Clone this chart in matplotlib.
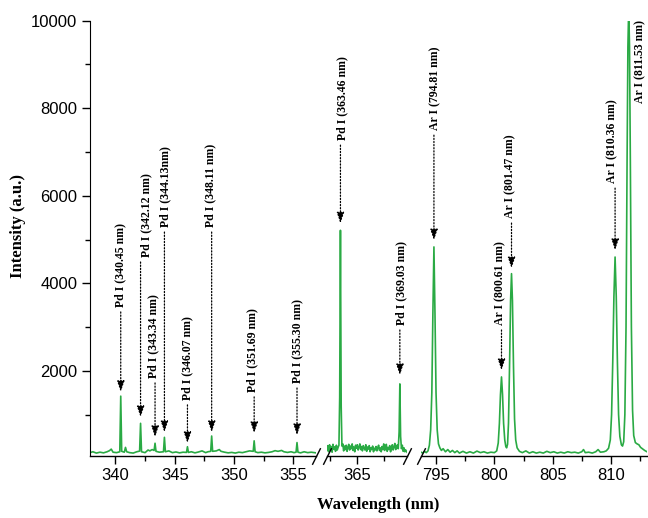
import matplotlib.pyplot as plt
from matplotlib.ticker import MultipleLocator, FixedLocator
import numpy as np

# spectrum, one list of (wavelength, intensity) per axis segment
seg1 = [(337.86, 130), (338.1, 150), (338.4, 120), (338.7, 140), (339.0, 125), (339.3, 150),
        (339.5, 175), (339.65, 210), (339.8, 140), (340.1, 130), (340.37, 150), (340.45, 1420),
        (340.53, 160), (340.75, 140), (340.85, 250), (340.95, 150), (341.2, 130), (341.5, 120),
        (341.8, 150), (342.04, 165), (342.12, 800), (342.2, 150), (342.5, 130), (342.75, 190),
        (342.9, 170), (343.1, 200), (343.26, 180), (343.34, 345), (343.42, 160), (343.7, 140),
        (344.05, 150), (344.13, 480), (344.21, 150), (344.5, 170), (344.8, 130), (345.1, 145),
        (345.4, 125), (345.7, 140), (345.99, 135), (346.07, 265), (346.15, 135), (346.4, 150),
        (346.7, 125), (347.0, 145), (347.3, 170), (347.6, 130), (347.8, 150), (348.03, 160),
        (348.11, 510), (348.19, 160), (348.5, 170), (348.75, 200), (348.9, 160), (349.2, 140),
        (349.5, 125), (349.8, 135), (350.1, 120), (350.4, 140), (350.7, 130), (351.0, 150),
        (351.3, 170), (351.61, 160), (351.69, 400), (351.77, 150), (352.0, 130), (352.3, 140),
        (352.6, 125), (352.9, 135), (353.2, 150), (353.45, 175), (353.7, 160), (354.0, 180),
        (354.2, 150), (354.5, 135), (354.8, 150), (355.05, 130), (355.22, 140), (355.30, 360),
        (355.38, 140), (355.6, 125), (355.9, 150), (356.2, 130), (356.5, 140), (356.9, 125)]

seg2 = [(362.2, 180), (362.28, 290), (362.36, 150), (362.44, 310), (362.52, 200), (362.6, 270),
        (362.68, 140), (362.76, 320), (362.84, 210), (362.92, 260), (363.0, 160), (363.08, 300),
        (363.16, 190), (363.24, 250), (363.32, 300), (363.39, 1400), (363.46, 5210), (363.53, 1200),
        (363.6, 280), (363.68, 330), (363.76, 170), (363.84, 280), (363.92, 200), (364.0, 300),
        (364.08, 160), (364.16, 250), (364.24, 320), (364.32, 190), (364.4, 280), (364.48, 220),
        (364.56, 330), (364.64, 180), (364.72, 260), (364.8, 150), (364.88, 300), (364.96, 230),
        (365.04, 310), (365.12, 190), (365.2, 250), (365.28, 330), (365.36, 200), (365.44, 270),
        (365.52, 170), (365.6, 290), (365.68, 230), (365.76, 190), (365.84, 310), (365.92, 160),
        (366.0, 260), (366.08, 210), (366.16, 290), (366.24, 150), (366.32, 240), (366.4, 200),
        (366.48, 280), (366.56, 150), (366.64, 230), (366.72, 190), (366.8, 270), (366.88, 170),
        (366.96, 250), (367.04, 300), (367.12, 180), (367.2, 240), (367.28, 150), (367.36, 270),
        (367.44, 200), (367.52, 330), (367.6, 180), (367.68, 240), (367.76, 320), (367.84, 160),
        (367.92, 250), (368.0, 200), (368.08, 290), (368.16, 150), (368.24, 240), (368.32, 310),
        (368.4, 190), (368.48, 260), (368.56, 340), (368.64, 200), (368.72, 250), (368.8, 310),
        (368.88, 220), (368.96, 600), (369.03, 1700), (369.1, 500), (369.18, 220), (369.26, 300),
        (369.34, 160), (369.42, 240), (369.5, 150), (369.58, 190), (369.7, 140)]

seg3 = [(793.7, 140), (793.85, 120), (794.0, 160), (794.15, 130), (794.3, 170), (794.42, 300),
        (794.53, 650), (794.63, 1500), (794.72, 3300), (794.81, 4830), (794.9, 3300), (794.99, 1500),
        (795.09, 650), (795.2, 330), (795.32, 240), (795.45, 180), (795.6, 220), (795.8, 150),
        (796.0, 200), (796.2, 140), (796.4, 180), (796.6, 130), (796.8, 170), (797.0, 120),
        (797.3, 160), (797.6, 120), (797.9, 150), (798.2, 120), (798.5, 165), (798.8, 130),
        (799.1, 150), (799.4, 120), (799.7, 140), (800.0, 130), (800.2, 170), (800.33, 350),
        (800.43, 800), (800.52, 1450), (800.61, 1860), (800.7, 1450), (800.79, 800), (800.89, 420),
        (800.98, 270), (801.05, 240), (801.13, 320), (801.21, 800), (801.3, 2100), (801.39, 3600),
        (801.47, 4220), (801.55, 3600), (801.64, 2100), (801.73, 900), (801.83, 420), (801.95, 240),
        (802.15, 160), (802.4, 130), (802.7, 170), (803.0, 120), (803.3, 150), (803.6, 120),
        (803.9, 140), (804.2, 120), (804.5, 160), (804.8, 130), (805.1, 150), (805.4, 120),
        (805.7, 140), (806.0, 120), (806.3, 150), (806.6, 130), (806.9, 140), (807.2, 120),
        (807.5, 150), (807.65, 200), (807.8, 130), (808.1, 140), (808.4, 120), (808.7, 150),
        (808.9, 200), (809.1, 140), (809.4, 150), (809.6, 170), (809.8, 230), (809.95, 420),
        (810.06, 1000), (810.16, 2200), (810.26, 3700), (810.36, 4600), (810.46, 3700), (810.56, 2200),
        (810.66, 1000), (810.77, 500), (810.9, 310), (811.0, 280), (811.1, 380), (811.2, 1000),
        (811.3, 3000), (811.39, 6800), (811.46, 9400), (811.53, 10300), (811.6, 9400), (811.67, 6800),
        (811.76, 3000), (811.86, 1100), (811.96, 520), (812.1, 360), (812.25, 330), (812.4, 310),
        (812.55, 250), (812.7, 220), (812.9, 180), (813.1, 150)]

line_names = ["Pd I (340.45 nm)", "Pd I (342.12 nm)", "Pd I (343.34 nm)", "Pd I (344.13nm)",
              "Pd I (346.07 nm)", "Pd I (348.11 nm)", "Pd I (351.69 nm)", "Pd I (355.30 nm)",
              "Pd I (363.46 nm)", "Pd I (369.03 nm)", "Ar I (794.81 nm)", "Ar I (800.61 nm)",
              "Ar I (801.47 nm)", "Ar I (810.36 nm)", "Ar I (811.53 nm)"]
line_wl = [340.45, 342.12, 343.34, 344.13, 346.07, 348.11, 351.69, 355.30,
           363.46, 369.03, 794.81, 800.61, 801.47, 810.36, 811.53]

# where the labels sit: text bottom, arrow tip (None = no arrow), text x shift in nm
label_y = [3455, 4596, 1833, 5281, 1331, 5281, 1514, 1717, 7267, 3043, 7495, 3043, 5486, 6285, 8111]
tip_y = [1518, 943, 488, 600, 350, 600, 578, 532, 5370, 1902, 4985, 2016, 4345, 4760, None]
label_dx = [0, 0.5, -0.15, 0.1, 0, -0.15, -0.15, 0, 0.15, 0.15, 0.15, -0.1, -0.1, -0.2, 1.0]

GREEN = "#2aaa44"
W, H = 648, 518

plt.rcParams['font.family'] = ['Liberation Sans', 'DejaVu Sans']
fig = plt.figure(figsize=(W / 100, H / 100), dpi=100)

bottom = 1 - 455.7 / H
height = (455.7 - 20.7) / H
boxes = [(90, 316), (327, 407), (421, 647)]
limits = [(337.86, 356.9), (362.2, 369.7), (793.7, 813.1)]
segs = [seg1, seg2, seg3]

axes = []
for i, ((x0, x1), lim, seg) in enumerate(zip(boxes, limits, segs)):
    ax = fig.add_axes([x0 / W, bottom, (x1 - x0) / W, height])
    wl, inten = np.array(seg).T
    ax.plot(wl, inten, color=GREEN, lw=1.2)
    ax.set_xlim(lim)
    ax.set_ylim(60, 10000)
    ax.xaxis.set_major_locator(MultipleLocator(5))
    ax.xaxis.set_minor_locator(MultipleLocator(2.5))
    for s in ['top', 'right']:
        ax.spines[s].set_visible(False)
    ax.spines['bottom'].set_linewidth(1.0)
    ax.tick_params(axis='x', which='major', length=6, width=1, labelsize=12, pad=3)
    ax.tick_params(axis='x', which='minor', length=3.5, width=1)
    if i == 0:
        ax.yaxis.set_major_locator(FixedLocator([2000, 4000, 6000, 8000, 10000]))
        ax.yaxis.set_minor_locator(MultipleLocator(1000))
        ax.tick_params(axis='y', which='major', length=6, width=1, labelsize=12, pad=3)
        ax.tick_params(axis='y', which='minor', length=3.5, width=1)
    else:
        ax.spines['left'].set_visible(False)
        ax.set_yticks([])
        ax.tick_params(axis='y', which='minor', left=False)
    ax.patch.set_alpha(0)
    axes.append(ax)

# break marks
brk = dict(marker=[(-1, -2), (1, 2)], markersize=12, linestyle='none', color='k',
           mec='k', mew=1.0, clip_on=False)
axes[0].plot([1], [0], transform=axes[0].transAxes, **brk)
axes[1].plot([0, 1], [0, 0], transform=axes[1].transAxes, **brk)
axes[2].plot([0], [0], transform=axes[2].transAxes, **brk)

def seg_axis(x):
    for ax, lim in zip(axes, limits):
        if lim[0] <= x <= lim[1]:
            return ax
    return axes[-1]

gap = 110
for name, x, ty, tip, dx in zip(line_names, line_wl, label_y, tip_y, label_dx):
    ax = seg_axis(x)
    ax.text(x + dx, ty, name, rotation=90, ha='center', va='bottom', fontsize=8.5,
            fontweight='bold', family='Liberation Serif', clip_on=False)
    if tip is not None:
        ax.annotate('', xy=(x, tip), xytext=(x, ty - gap),
                    arrowprops=dict(arrowstyle='-|>,head_length=0.65,head_width=0.22',
                                    linestyle=(0, (1, 1.5)), lw=0.9,
                                    color='k', mutation_scale=10, shrinkA=0, shrinkB=0))

fig.text(378 / W, 1 - 505 / H, "Wavelength (nm)", ha='center', va='center', fontsize=12,
         fontweight='bold', family='Liberation Serif')
fig.text(18 / W, 1 - 226 / H, "Intensity (a.u.)", ha='center', va='center', rotation=90,
         fontsize=12, fontweight='bold', family='Liberation Serif')

fig.savefig("out.png", dpi=100)
